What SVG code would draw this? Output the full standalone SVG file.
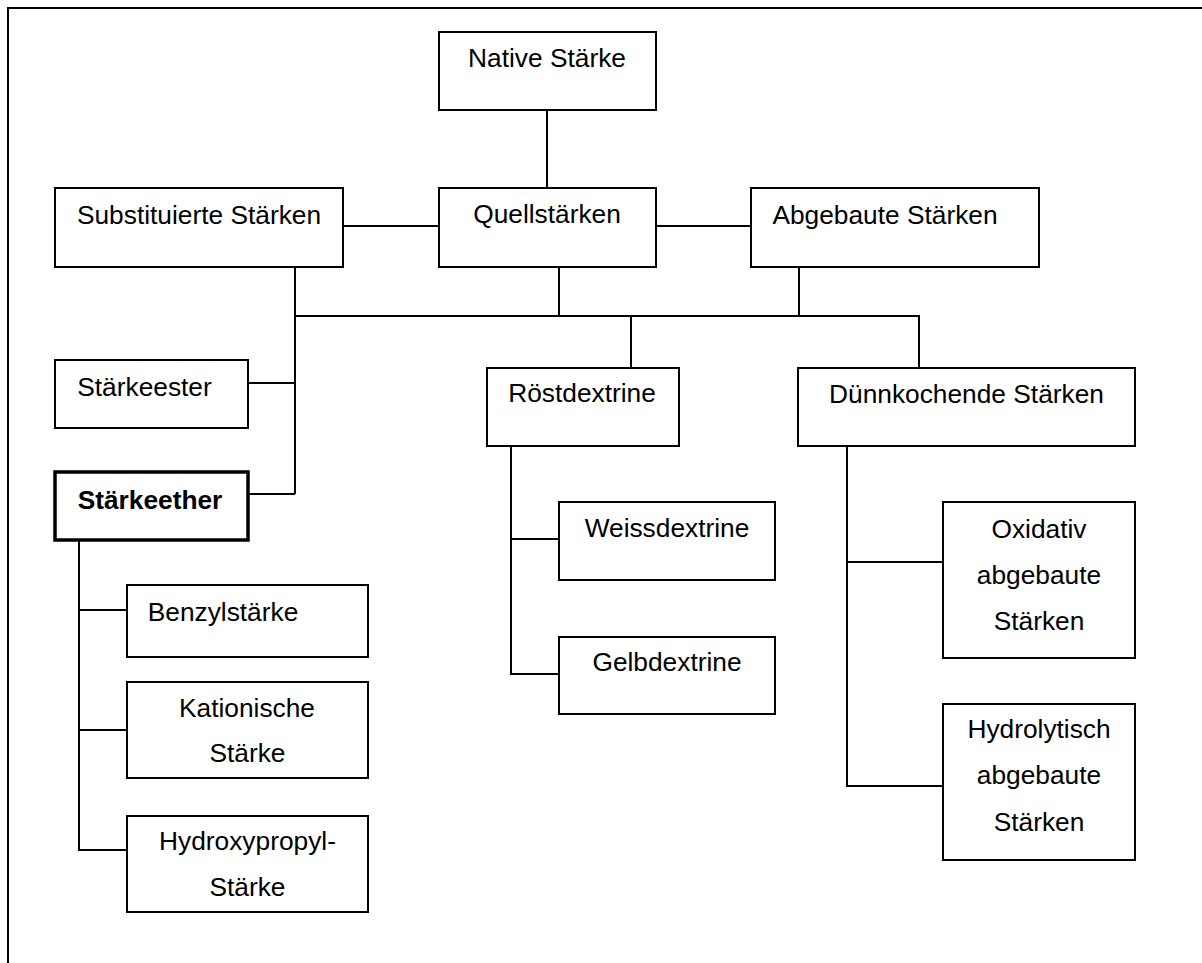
<svg xmlns="http://www.w3.org/2000/svg" width="1202" height="963" viewBox="0 0 1202 963">
<style>
.box{fill:#fff;stroke:#000;stroke-width:2}
.bold{fill:#fff;stroke:#000;stroke-width:3.5}
.c{fill:none;stroke:#000;stroke-width:2}
text{font-family:"Liberation Sans",Arial,sans-serif;font-size:26.3px;fill:#000;text-anchor:middle}
.b{font-weight:bold}
</style>
<rect x="0" y="0" width="1202" height="963" fill="#fff"/>
<rect id="frame" x="8" y="8" width="1300" height="1100" fill="none" stroke="#000" stroke-width="2"/>
<g id="connectors" class="c">
<path class="c" d="M547,110V188"/>
<path class="c" d="M343,226H439"/>
<path class="c" d="M656,226H751"/>
<path class="c" d="M295,267V494"/>
<path class="c" d="M559,267V316"/>
<path class="c" d="M799,267V316"/>
<path class="c" d="M295,316H919V368"/>
<path class="c" d="M631,316V368"/>
<path class="c" d="M248,383H295"/>
<path class="c" d="M248,494H295"/>
<path class="c" d="M79,540V850H127"/>
<path class="c" d="M79,610H127"/>
<path class="c" d="M79,730H127"/>
<path class="c" d="M511,446V674H559"/>
<path class="c" d="M511,539H559"/>
<path class="c" d="M847,446V786H943"/>
<path class="c" d="M847,562H943"/>
</g>
<g id="native"><rect class="box" x="439" y="32" width="217" height="78"/><text x="547" y="67">Native Stärke</text></g>
<g id="quell"><rect class="box" x="439" y="188" width="217" height="79"/><text x="547" y="223">Quellstärken</text></g>
<g id="substituiert"><rect class="box" x="55" y="188" width="288" height="79"/><text x="199" y="224">Substituierte Stärken</text></g>
<g id="abgebaut"><rect class="box" x="751" y="188" width="288" height="79"/><text x="885" y="224">Abgebaute Stärken</text></g>
<g id="ester"><rect class="box" x="55" y="360" width="193" height="68"/><text x="144.5" y="396">Stärkeester</text></g>
<g id="ether"><rect class="bold" x="55" y="472" width="193" height="68"/><text class="b" x="150" y="509">Stärkeether</text></g>
<g id="roest"><rect class="box" x="487" y="368" width="192" height="78"/><text x="582" y="402">Röstdextrine</text></g>
<g id="duenn"><rect class="box" x="798" y="368" width="337" height="78"/><text x="966.5" y="403">Dünnkochende Stärken</text></g>
<g id="weiss"><rect class="box" x="559" y="502" width="216" height="78"/><text x="667" y="537">Weissdextrine</text></g>
<g id="gelb"><rect class="box" x="559" y="637" width="216" height="77"/><text x="667" y="671">Gelbdextrine</text></g>
<g id="oxidativ"><rect class="box" x="943" y="502" width="192" height="156"/><text x="1039" y="538">Oxidativ</text><text x="1039" y="584">abgebaute</text><text x="1039" y="630">Stärken</text></g>
<g id="hydrolytisch"><rect class="box" x="943" y="704" width="192" height="156"/><text x="1039" y="738">Hydrolytisch</text><text x="1039" y="784">abgebaute</text><text x="1039" y="831">Stärken</text></g>
<g id="benzyl"><rect class="box" x="127" y="585" width="241" height="72"/><text x="223" y="621">Benzylstärke</text></g>
<g id="kation"><rect class="box" x="127" y="682" width="241" height="96"/><text x="247" y="717">Kationische</text><text x="247.5" y="762">Stärke</text></g>
<g id="hydroxy"><rect class="box" x="127" y="816" width="241" height="96"/><text x="247.5" y="850">Hydroxypropyl-</text><text x="247.5" y="896">Stärke</text></g>
</svg>
